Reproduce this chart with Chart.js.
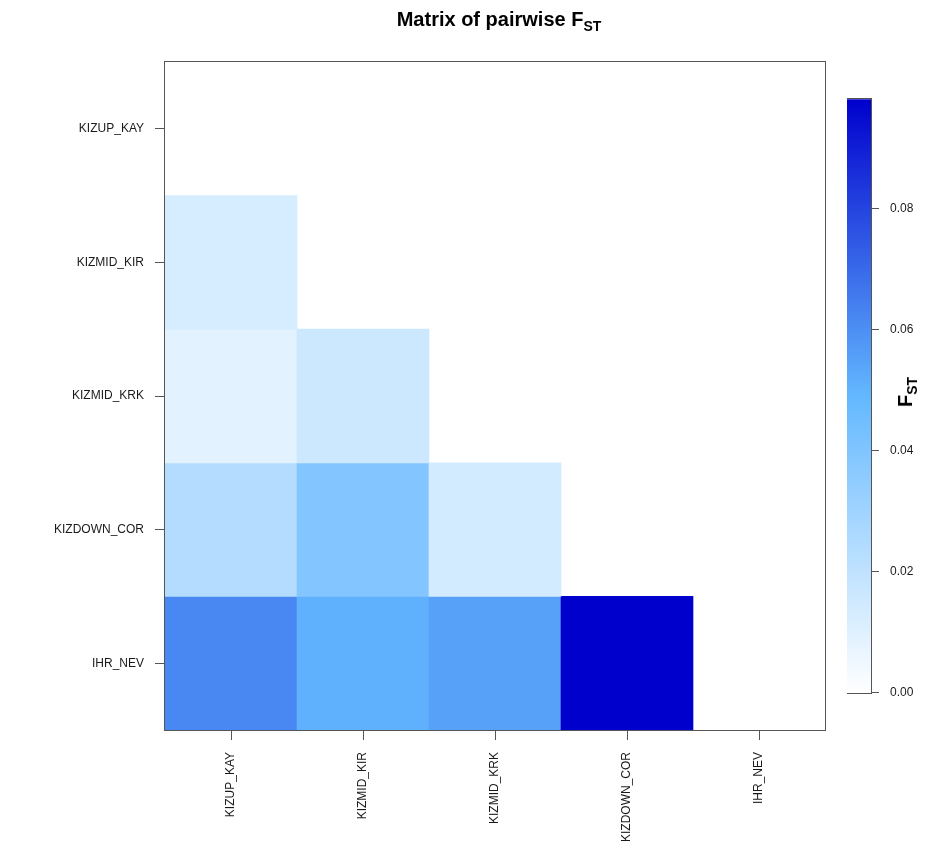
<!DOCTYPE html>
<html>
<head>
<meta charset="utf-8">
<script src="https://cdn.jsdelivr.net/npm/chart.js@4/dist/chart.umd.min.js"></script>
<style>
  html, body { margin: 0; padding: 0; background: #ffffff; }
  #wrap { position: relative; width: 942px; height: 845px; overflow: hidden;
          font-family: "Liberation Sans", Arial, sans-serif; color: #000; }
  #main { position: absolute; left: 0; top: 0; }
  #key  { position: absolute; left: 847px; top: 81px; }
  #title { position: absolute; left: 169px; top: 7px; width: 660px; text-align: center;
           font-weight: bold; font-size: 20px; line-height: 24px; white-space: nowrap; }
  #title sub { font-size: 14px; vertical-align: -5px; line-height: 0; }
  #keyTitle { position: absolute; left: 905px; top: 392px; font-weight: bold; font-size: 20px;
              line-height: 22px; white-space: nowrap;
              transform: translate(-50%, -50%) rotate(-90deg); }
  #keyTitle sub { font-size: 14px; vertical-align: -5px; line-height: 0; }
</style>
</head>
<body>
<div id="wrap">
  <canvas id="main" width="942" height="845"></canvas>
  <canvas id="key" width="95" height="630"></canvas>
  <div id="title">Matrix of pairwise F<sub>ST</sub></div>
  <div id="keyTitle">F<sub>ST</sub></div>
</div>
<script>
// Populations, in matrix order (top row / left column first)
const populations = ['KIZUP_KAY', 'KIZMID_KIR', 'KIZMID_KRK', 'KIZDOWN_COR', 'IHR_NEV'];

// Lower triangle of pairwise FST: each row against the populations before it
const fstKizupKay   = [];
const fstKizmidKir  = [0.013];
const fstKizmidKrk  = [0.009, 0.016];
const fstKizdownCor = [0.024, 0.039, 0.014];
const fstIhrNev     = [0.062, 0.051, 0.055, 0.098];

// Colour key tick values
const keyTicks = [0, 0.02, 0.04, 0.06, 0.08];

const matrixRows = [fstKizupKay, fstKizmidKir, fstKizmidKrk, fstKizdownCor, fstIhrNev];
const fstMax = Math.max(...matrixRows.flat());

// white -> steelblue1 -> blue3 ramp over [0, fstMax]
const rampStops = [[255, 255, 255], [99, 184, 255], [0, 0, 205]];
function fstColor(v) {
  const t = Math.min(Math.max(v / fstMax, 0), 1) * (rampStops.length - 1);
  const i = Math.min(Math.floor(t), rampStops.length - 2);
  const f = t - i;
  const a = rampStops[i], b = rampStops[i + 1];
  const c = a.map((x, k) => Math.round(x + (b[k] - x) * f));
  return `rgb(${c[0]},${c[1]},${c[2]})`;
}

const n = populations.length;
const frameColor = '#555555';
const textColor = '#1a1a1a';

// Outline around the plotting region
const framePlugin = {
  id: 'frame',
  afterDraw(chart) {
    const { ctx, chartArea: a } = chart;
    ctx.save();
    ctx.strokeStyle = frameColor;
    ctx.lineWidth = 1;
    ctx.strokeRect(Math.round(a.left) - 0.5, Math.round(a.top) - 0.5,
                   Math.round(a.right - a.left) + 1, Math.round(a.bottom - a.top) + 1);
    ctx.restore();
  }
};

// One floating-bar dataset per matrix row; each bar spans one row band
const cellDatasets = matrixRows
  .map((vals, r) => ({
    label: populations[r],
    fst: vals,
    data: populations.map((_, c) => (c < vals.length ? [n - 1 - r, n - r] : null)),
    backgroundColor: ctx => {
      const v = ctx.dataset.fst[ctx.dataIndex];
      return v == null ? 'rgba(0,0,0,0)' : fstColor(v);
    },
    borderWidth: 0,
    barPercentage: 1,
    categoryPercentage: 1,
    grouped: false
  }))
  .filter(d => d.fst.length > 0);

new Chart(document.getElementById('main'), {
  type: 'bar',
  data: { labels: populations, datasets: cellDatasets },
  options: {
    responsive: false,
    animation: false,
    devicePixelRatio: 1,
    layout: { padding: { left: 0, top: 62, right: 117, bottom: 0 } },
    plugins: { legend: { display: false }, tooltip: { enabled: false }, title: { display: false } },
    scales: {
      x: {
        type: 'category',
        border: { display: false },
        grid: { display: true, offset: false, drawOnChartArea: false, drawTicks: true,
                tickLength: 10, color: frameColor, tickColor: frameColor },
        ticks: { autoSkip: false, minRotation: 90, maxRotation: 90, padding: 12,
                 color: textColor, font: { family: '"Liberation Sans", Arial, sans-serif', size: 12 } },
        afterFit: s => { s.height = 115; }
      },
      y: {
        type: 'linear',
        min: 0,
        max: n,
        border: { display: false },
        grid: { display: true, drawOnChartArea: false, drawTicks: true,
                tickLength: 10, color: frameColor, tickColor: frameColor },
        afterBuildTicks: s => { s.ticks = populations.map((_, i) => ({ value: i + 0.5 })); },
        ticks: { autoSkip: false, padding: 11, color: textColor,
                 font: { family: '"Liberation Sans", Arial, sans-serif', size: 12 },
                 callback: v => populations[n - 1 - Math.floor(v)] },
        afterFit: s => { s.width = 165; }
      }
    }
  },
  plugins: [framePlugin]
});

// Colour key: a single floating bar from 0 to the largest FST, filled with the ramp
new Chart(document.getElementById('key'), {
  type: 'bar',
  data: {
    labels: ['FST'],
    datasets: [{
      data: [[0, fstMax]],
      backgroundColor: ctx => {
        const chart = ctx.chart;
        const ys = chart.scales.y;
        if (!chart.chartArea || !ys) return fstColor(fstMax / 2);
        const g = chart.ctx.createLinearGradient(0, ys.getPixelForValue(0), 0, ys.getPixelForValue(fstMax));
        rampStops.forEach((_, i) => {
          const f = i / (rampStops.length - 1);
          g.addColorStop(f, fstColor(f * fstMax));
        });
        return g;
      },
      borderWidth: 0,
      barPercentage: 1,
      categoryPercentage: 1
    }]
  },
  options: {
    responsive: false,
    animation: false,
    devicePixelRatio: 1,
    layout: { padding: { left: 0, top: 10, right: 0, bottom: 10 } },
    plugins: { legend: { display: false }, tooltip: { enabled: false } },
    scales: {
      x: { display: false },
      y: {
        type: 'linear',
        position: 'right',
        min: 0,
        max: fstMax,
        border: { display: false },
        grid: { display: true, drawOnChartArea: false, drawTicks: true,
                tickLength: 8, color: frameColor, tickColor: frameColor },
        afterBuildTicks: s => { s.ticks = keyTicks.map(v => ({ value: v })); },
        ticks: { autoSkip: false, padding: 11, color: textColor,
                 font: { family: '"Liberation Sans", Arial, sans-serif', size: 12 },
                 callback: v => v.toFixed(2) },
        afterFit: s => { s.width = 71; }
      }
    }
  },
  plugins: [framePlugin]
});
</script>
</body>
</html>
